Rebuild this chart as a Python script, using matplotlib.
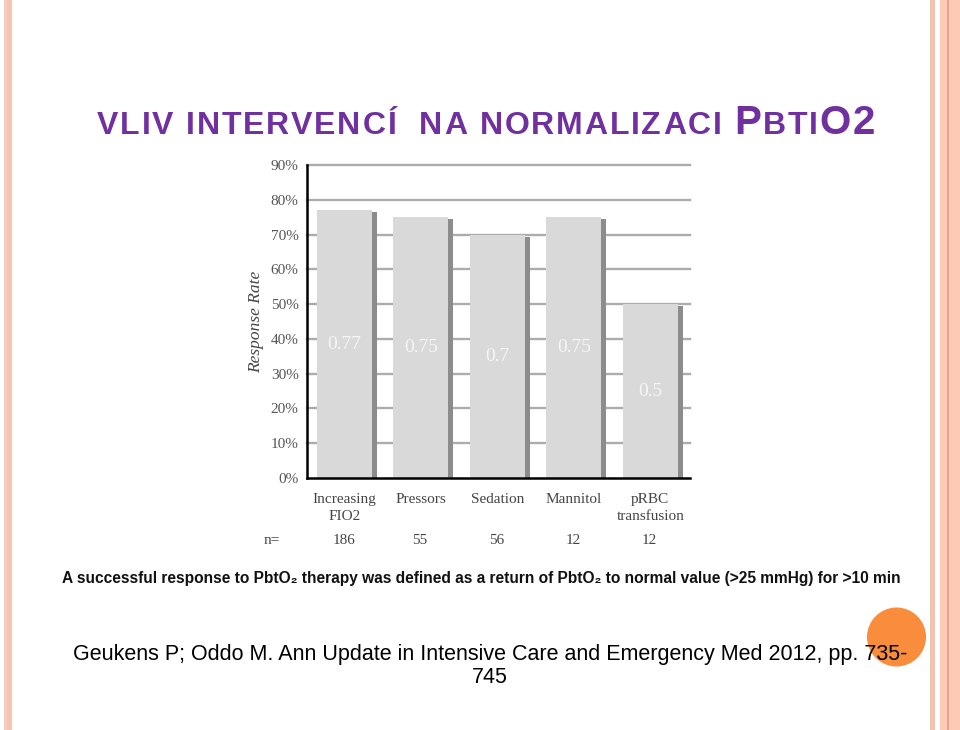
import numpy as np
import matplotlib
matplotlib.use("Agg")
import matplotlib.pyplot as plt
from matplotlib.patches import Rectangle, Circle

# chart data
categories = ["Increasing\nFIO2", "Pressors", "Sedation", "Mannitol", "pRBC\ntransfusion"]
rates = [0.77, 0.75, 0.70, 0.75, 0.50]
n_values = [186, 55, 56, 12, 12]
y_ticks = [0.0, 0.1, 0.2, 0.3, 0.4, 0.5, 0.6, 0.7, 0.8, 0.9]

title_parts = [("VLIV INTERVENCÍ  NA NORMALIZACI ", 23), ("P", 29), ("BTI", 23), ("O2", 29)]
footnote = "A successful response to PbtO\u2082 therapy was defined as a return of PbtO\u2082 to normal value (>25 mmHg) for >10 min"
citation = "Geukens P; Oddo M. Ann Update in Intensive Care and Emergency Med 2012, pp. 735-\n745"

W, H = 960, 730
fig = plt.figure(figsize=(W / 100, H / 100), dpi=100)
fig.patch.set_facecolor("white")

# full-figure overlay in pixel units (y down)
bg = fig.add_axes([0, 0, 1, 1], zorder=0)
bg.set_xlim(0, W)
bg.set_ylim(H, 0)
bg.axis("off")

# slide border stripes
bg.add_patch(Rectangle((4, 0), 2.5, H, color="#f5cdbf", lw=0))
bg.add_patch(Rectangle((7, 0), 4.5, H, color="#fbc3b0", lw=0))
bg.add_patch(Rectangle((930, 0), 4.5, H, color="#f3c3b2", lw=0))
bg.add_patch(Rectangle((940, 0), 20, H, color="#fdcab8", lw=0))
bg.add_patch(Rectangle((947, 0), 1.5, H, color="#eaa485", lw=0))

# orange page-number circle
bg.add_patch(Circle((896.5, 637), 29.5, color="#f98d3c", lw=0, zorder=2))

purple = "#7030a0"
sans = ["Liberation Sans", "DejaVu Sans"]
serif = ["Liberation Serif", "DejaVu Serif"]

# chart
ax = fig.add_axes([307 / W, 1 - 478 / H, (690 - 307) / W, (478 - 165) / H], zorder=1)
ax.patch.set_alpha(0)
pos = np.arange(len(categories))
ax.set_xlim(-0.52, 4.49)
ax.set_ylim(0, 0.9)

for t in y_ticks[1:]:
    ax.axhline(t, color="#acacac", lw=1.7, zorder=0, clip_on=False)

ax.bar(pos - 0.03, rates, width=0.72, color="#d9d9d9", zorder=2)
ax.bar(pos + 0.36, [r - 0.006 for r in rates], width=0.065, color="#8c8c8c", zorder=2)

for x, r in zip(pos, rates):
    ax.text(x - 0.03, r / 2, f"{r:g}", ha="center", va="center", color="#f6f6f6",
            family=serif, fontsize=14, zorder=3)

for s in ["top", "right"]:
    ax.spines[s].set_visible(False)
ax.spines["left"].set_linewidth(1.8)
ax.spines["bottom"].set_linewidth(1.8)
ax.spines["left"].set_zorder(4)
ax.spines["bottom"].set_zorder(4)

ax.set_yticks(y_ticks)
ax.set_yticklabels([f"{int(round(t * 100))}%" for t in y_ticks], family=serif, fontsize=11, color="#555555")
ax.tick_params(axis="y", length=0, pad=6)
ax.set_xticks(pos - 0.03)
ax.set_xticklabels(categories, family=serif, fontsize=11, color="#444444", linespacing=1.4)
ax.tick_params(axis="x", length=0, pad=11)

ax.set_ylabel("Response Rate", family=serif, style="italic", fontsize=12.5, color="#444444", labelpad=5)

ax.text(-0.98, -0.201, "n=", transform=ax.get_xaxis_transform(), ha="center", va="center",
        family=serif, fontsize=11, color="#444444")
for x, n in zip(pos, n_values):
    ax.text(x - 0.04, -0.201, str(n), transform=ax.get_xaxis_transform(), ha="center", va="center",
            family=serif, fontsize=11, color="#444444")

fig.canvas.draw()
renderer = fig.canvas.get_renderer()

# footnote of the original figure, sized to span the same width
fn = bg.text(62, 579, footnote, family=sans, fontweight="bold", fontsize=14,
             ha="left", va="center", color="#111111", zorder=3)
fn.set_fontsize(14 * 845 / fn.get_window_extent(renderer).width)

# citation
bg.text(490, 666, citation, family=sans, fontsize=15.5, ha="center", va="center",
        linespacing=1.1, color="black", zorder=3)

# title with small-caps look, letters spread to the reference width
chars = []
for txt, size in title_parts:
    for c in txt:
        t = bg.text(0, 134, c, family=sans, fontweight="bold", fontsize=size, color=purple,
                    ha="left", va="baseline", zorder=3)
        w = t.get_window_extent(renderer).width if c != " " else size * 0.28 * 100 / 72
        chars.append((t, w))
natural = sum(w for _, w in chars)
track = (778 - natural) / (len(chars) - 1)
x0 = 97
for t, w in chars:
    t.set_x(x0)
    x0 += w + track

fig.savefig("out.png", dpi=100, facecolor="white")
